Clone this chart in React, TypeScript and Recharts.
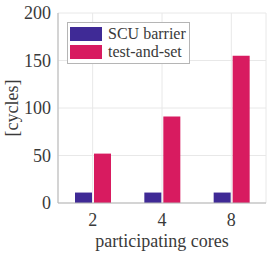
import React from "react";
import {
  BarChart,
  Bar,
  CartesianGrid,
  Legend,
  XAxis,
  YAxis,
} from "recharts";

const cores = ["2", "4", "8"];
const scuBarrier = [11, 11, 11];
const testAndSet = [52, 91, 155];
const yTicks = [0, 50, 100, 150, 200];

const data = cores.map((c, i) => ({
  cores: c,
  scu: scuBarrier[i],
  tas: testAndSet[i],
}));

const FONT = "Liberation Serif";
const AXIS_GRAY = "#b5b5b5";
const TEXT = "#3a3a3a";

const LegendBox = (props: any) => {
  const items = props.payload || [];
  return (
    <div
      style={{
        background: "#fff",
        border: `1px solid ${AXIS_GRAY}`,
        padding: "2px 3px 2px 2px",
        fontFamily: FONT,
        fontSize: 16,
        color: TEXT,
        lineHeight: "18px",
      }}
    >
      {items.map((it: any) => (
        <div key={it.value} style={{ display: "flex", alignItems: "center", whiteSpace: "nowrap" }}>
          <span
            style={{
              display: "inline-block",
              width: 32,
              height: 14,
              background: it.color,
              marginRight: 6,
            }}
          />
          {it.value}
        </div>
      ))}
    </div>
  );
};

export default function App() {
  return (
    <div style={{ position: "absolute", left: 0, top: 0, background: "#fff" }}>
      <BarChart
        width={267}
        height={254}
        data={data}
        margin={{ top: 13, right: 1, left: 0, bottom: 0 }}
        barSize={17}
        barGap={2}
      >
        <CartesianGrid stroke="#e8e8e8" />
        <XAxis
          dataKey="cores"
          height={51}
          stroke={AXIS_GRAY}
          tickLine={false}
          tick={{ fill: TEXT, fontSize: 18, fontFamily: FONT }}
          tickMargin={4}
          label={{
            value: "participating cores",
            position: "insideBottom",
            offset: 7,
            fill: TEXT,
            fontSize: 18,
            fontFamily: FONT,
          }}
        />
        <YAxis
          width={58}
          domain={[0, 200]}
          ticks={yTicks}
          stroke={AXIS_GRAY}
          tickLine={false}
          tick={{ fill: TEXT, fontSize: 18, fontFamily: FONT }}
          tickMargin={1}
          label={{
            value: "[cycles]",
            angle: -90,
            position: "insideLeft",
            offset: 12,
            fill: TEXT,
            fontSize: 18,
            fontFamily: FONT,
            style: { textAnchor: "middle" },
          }}
        />
        <YAxis
          yAxisId="right"
          orientation="right"
          width={0}
          stroke={AXIS_GRAY}
          tick={false}
          tickLine={false}
        />
        <Legend
          layout="vertical"
          align="center"
          verticalAlign="middle"
          content={LegendBox}
          wrapperStyle={{ top: 22, left: 67, width: "auto" }}
        />
        <Bar dataKey="scu" name="SCU barrier" fill="#3f2a96" isAnimationActive={false} />
        <Bar dataKey="tas" name="test-and-set" fill="#d81b60" isAnimationActive={false} />
      </BarChart>
    </div>
  );
}
